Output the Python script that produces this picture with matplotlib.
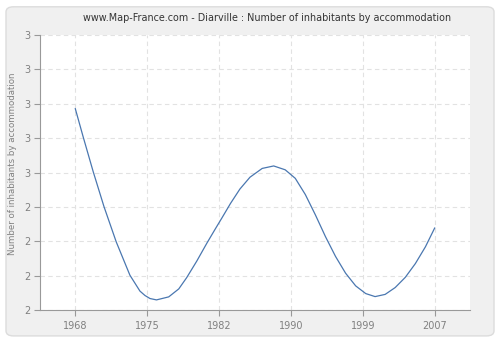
import matplotlib
matplotlib.use('Agg')
import matplotlib.pyplot as plt
from matplotlib.patches import FancyBboxPatch, Rectangle

# ---- data ----
years = ['1968', '1975', '1982', '1990', '1999', '2007']
y_tick_labels = ['2', '2', '2', '2', '3', '3', '3', '3', '3']

# points sampled along the drawn curve (x = position between census ticks)
curve_pos = [0.00, 0.11, 0.25, 0.40, 0.57, 0.76, 0.90, 0.97, 1.04, 1.13,
             1.30, 1.44, 1.55, 1.69, 1.83, 1.95, 2.04, 2.16, 2.29, 2.43,
             2.60, 2.76, 2.92, 3.06, 3.20, 3.34, 3.48, 3.62, 3.76, 3.90,
             4.04, 4.17, 4.31, 4.45, 4.59, 4.73, 4.87, 5.00]
curve_val = [2.733, 2.630, 2.503, 2.376, 2.248, 2.127, 2.069, 2.053, 2.042, 2.037,
             2.048, 2.077, 2.118, 2.178, 2.243, 2.296, 2.335, 2.388, 2.440, 2.483,
             2.515, 2.524, 2.510, 2.479, 2.420, 2.346, 2.267, 2.195, 2.134, 2.088,
             2.060, 2.049, 2.057, 2.082, 2.119, 2.169, 2.230, 2.299]

plt.rcParams['hatch.color'] = '#ebebeb'
plt.rcParams['hatch.linewidth'] = 0.6

fig = plt.figure(figsize=(5.0, 3.4), dpi=100, facecolor='white')

# outer grey panel, kept behind the axes
panel = FancyBboxPatch((0.012, 0.012), 0.976, 0.968, boxstyle='round,pad=0,rounding_size=0.015',
                       transform=fig.transFigure, facecolor='#f0f0f0', edgecolor='#dcdcdc',
                       linewidth=1.0, zorder=-10)
fig.patches.append(panel)

ax = fig.add_axes([0.08, 0.088, 0.86, 0.809])
ax.set_zorder(1)
ax.set_facecolor('white')
ax.add_patch(Rectangle((0, 0), 1, 1, transform=ax.transAxes, facecolor='white',
                       edgecolor='none', hatch='////', zorder=0))

ax.set_xlim(-0.49, 5.49)
ax.set_ylim(2.0, 3.0)

ax.plot(curve_pos, curve_val, color='#4a77b0', linewidth=0.9, zorder=3,
        solid_capstyle='round', solid_joinstyle='round')

ax.set_xticks(range(len(years)))
ax.set_xticklabels(years)
y_ticks = [2.0 + i * 0.125 for i in range(len(y_tick_labels))]
ax.set_yticks(y_ticks)
ax.set_yticklabels(y_tick_labels)

ax.grid(True, color='#e2e2e2', linestyle=(0, (4, 3)), linewidth=0.8)
ax.set_axisbelow(True)

for side in ['top', 'right']:
    ax.spines[side].set_visible(False)
for side in ['left', 'bottom']:
    ax.spines[side].set_color('#999999')
    ax.spines[side].set_linewidth(0.8)

ax.tick_params(axis='both', colors='#999999', labelcolor='#808080', labelsize=7,
               length=4, width=0.8)
ax.tick_params(axis='x', pad=4)
ax.tick_params(axis='y', pad=3)

fig.text(0.026, 1 - 164 / 340, 'Number of inhabitants by accommodation', rotation=90,
         fontsize=6.2, color='#808080', ha='center', va='center')
fig.text(0.534, 1 - 18 / 340,
         'www.Map-France.com - Diarville : Number of inhabitants by accommodation',
         fontsize=6.9, color='#333333', ha='center', va='center')

plt.savefig('out.png', dpi=100, facecolor='white')
plt.close()
